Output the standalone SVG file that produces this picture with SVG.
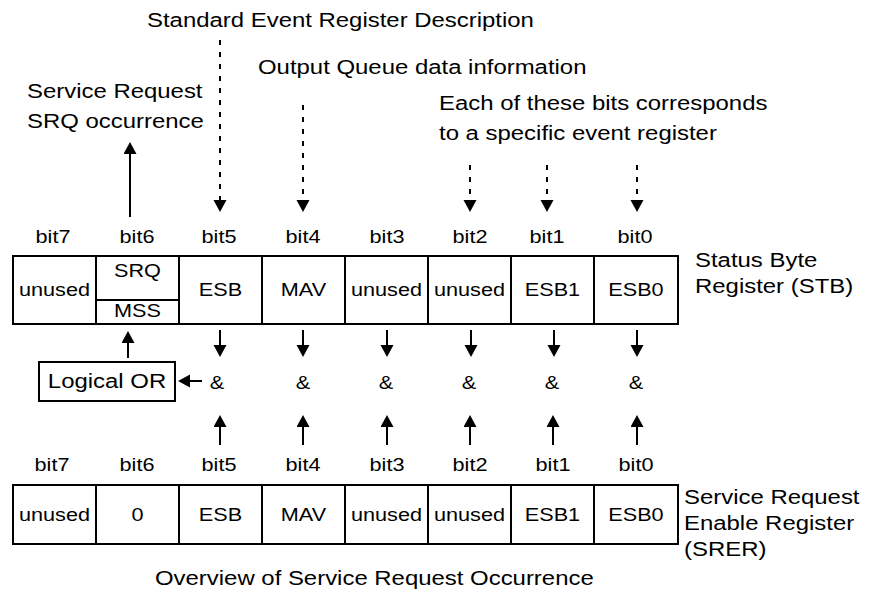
<svg xmlns="http://www.w3.org/2000/svg" width="872" height="593" viewBox="0 0 872 593">
<defs>
<style>
text{font-family:"Liberation Sans",Arial,sans-serif;font-size:21px;fill:#000}
.s{font-size:19px}
.m{text-anchor:middle}
.box{fill:#fff;stroke:#000;stroke-width:2}
.ln{stroke:#000;stroke-width:2;fill:none}
.dash{stroke:#000;stroke-width:2;fill:none;stroke-dasharray:5,7}
</style>
<marker id="ah" markerUnits="userSpaceOnUse" markerWidth="14" markerHeight="14" refX="2" refY="6.5" orient="auto" viewBox="0 0 14 14">
<path d="M0,0 L12,6.5 L0,13 z" fill="#000"/>
</marker>
</defs>
<rect width="872" height="593" fill="#fff"/>

<g id="labels-top">
<g transform="scale(1.14,1)">
<text x="128.95" y="27">Standard Event Register Description</text>
<text x="226.32" y="74">Output Queue data information</text>
<text x="23.68" y="98">Service Request</text>
<text x="23.68" y="128">SRQ occurrence</text>
<text x="385.09" y="110">Each of these bits corresponds</text>
<text x="385.09" y="140">to a specific event register</text>
</g>
</g>

<g id="bits-top">
<g transform="scale(1.14,1)">
<text class="m s" x="46.49" y="243">bit7</text>
<text class="m s" x="120.18" y="243">bit6</text>
<text class="m s" x="192.11" y="243">bit5</text>
<text class="m s" x="265.79" y="243">bit4</text>
<text class="m s" x="339.47" y="243">bit3</text>
<text class="m s" x="412.28" y="243">bit2</text>
<text class="m s" x="479.82" y="243">bit1</text>
<text class="m s" x="557.02" y="243">bit0</text>
</g>
</g>

<g id="stb">
<rect class="box" x="13" y="256" width="665" height="68"/>
<path class="ln" d="M96,256V324M179,256V324M262,256V324M345,256V324M428,256V324M511,256V324M594,256V324M96,300H179"/>
<g transform="scale(1.14,1)">
<text class="m s" x="47.81" y="296">unused</text>
<text class="m s" x="120.61" y="277">SRQ</text>
<text class="m s" x="120.61" y="317">MSS</text>
<text class="m s" x="193.42" y="296">ESB</text>
<text class="m s" x="266.23" y="296">MAV</text>
<text class="m s" x="339.04" y="296">unused</text>
<text class="m s" x="411.84" y="296">unused</text>
<text class="m s" x="484.65" y="296">ESB1</text>
<text class="m s" x="557.89" y="296">ESB0</text>
<text x="609.65" y="267">Status Byte</text>
<text x="609.65" y="293">Register (STB)</text>
</g>
</g>

<g id="logical-or">
<rect class="box" x="39" y="362" width="136" height="39"/>
<g transform="scale(1.14,1)">
<text class="m" x="93.86" y="388">Logical OR</text>
</g>
</g>

<g id="and-gates">
<g transform="scale(1.14,1)">
<text class="m s" x="190.35" y="389">&amp;</text>
<text class="m s" x="265.79" y="389">&amp;</text>
<text class="m s" x="338.6" y="389">&amp;</text>
<text class="m s" x="411.4" y="389">&amp;</text>
<text class="m s" x="484.21" y="389">&amp;</text>
<text class="m s" x="557.89" y="389">&amp;</text>
</g>
</g>

<g id="bits-bottom">
<g transform="scale(1.14,1)">
<text class="m s" x="45.61" y="471">bit7</text>
<text class="m s" x="120.18" y="471">bit6</text>
<text class="m s" x="192.11" y="471">bit5</text>
<text class="m s" x="265.79" y="471">bit4</text>
<text class="m s" x="339.47" y="471">bit3</text>
<text class="m s" x="412.28" y="471">bit2</text>
<text class="m s" x="485.09" y="471">bit1</text>
<text class="m s" x="557.89" y="471">bit0</text>
</g>
</g>

<g id="srer">
<rect class="box" x="13" y="485" width="665" height="59"/>
<path class="ln" d="M96,485V544M179,485V544M262,485V544M345,485V544M428,485V544M511,485V544M594,485V544"/>
<g transform="scale(1.14,1)">
<text class="m s" x="47.81" y="521">unused</text>
<text class="m s" x="120.61" y="521">0</text>
<text class="m s" x="193.42" y="521">ESB</text>
<text class="m s" x="266.23" y="521">MAV</text>
<text class="m s" x="339.04" y="521">unused</text>
<text class="m s" x="411.84" y="521">unused</text>
<text class="m s" x="484.65" y="521">ESB1</text>
<text class="m s" x="557.89" y="521">ESB0</text>
<text x="600" y="504">Service Request</text>
<text x="600" y="530">Enable Register</text>
<text x="600" y="556">(SRER)</text>
</g>
</g>

<g id="caption">
<g transform="scale(1.14,1)">
<text x="135.96" y="585">Overview of Service Request Occurrence</text>
</g>
</g>

<g id="connectors">
<line class="dash" x1="220" y1="40" x2="220" y2="202" marker-end="url(#ah)"/>
<line class="dash" x1="303" y1="105" x2="303" y2="202" marker-end="url(#ah)"/>
<line class="dash" x1="470" y1="165" x2="470" y2="202" marker-end="url(#ah)"/>
<line class="dash" x1="547" y1="165" x2="547" y2="202" marker-end="url(#ah)"/>
<line class="dash" x1="637" y1="165" x2="637" y2="202" marker-end="url(#ah)"/>
<line class="ln" x1="130" y1="217" x2="130" y2="152" marker-end="url(#ah)"/>
<line class="ln" x1="128" y1="358" x2="128" y2="341" marker-end="url(#ah)"/>
<line class="ln" x1="202" y1="381" x2="188" y2="381" marker-end="url(#ah)"/>
<line class="ln" x1="220" y1="330" x2="220" y2="347" marker-end="url(#ah)"/>
<line class="ln" x1="303" y1="330" x2="303" y2="347" marker-end="url(#ah)"/>
<line class="ln" x1="387" y1="330" x2="387" y2="347" marker-end="url(#ah)"/>
<line class="ln" x1="471" y1="330" x2="471" y2="347" marker-end="url(#ah)"/>
<line class="ln" x1="554" y1="330" x2="554" y2="347" marker-end="url(#ah)"/>
<line class="ln" x1="637" y1="330" x2="637" y2="347" marker-end="url(#ah)"/>
<line class="ln" x1="220" y1="445" x2="220" y2="425" marker-end="url(#ah)"/>
<line class="ln" x1="303" y1="445" x2="303" y2="425" marker-end="url(#ah)"/>
<line class="ln" x1="387" y1="445" x2="387" y2="425" marker-end="url(#ah)"/>
<line class="ln" x1="470" y1="445" x2="470" y2="425" marker-end="url(#ah)"/>
<line class="ln" x1="553" y1="445" x2="553" y2="425" marker-end="url(#ah)"/>
<line class="ln" x1="637" y1="445" x2="637" y2="425" marker-end="url(#ah)"/>
</g>
</svg>
